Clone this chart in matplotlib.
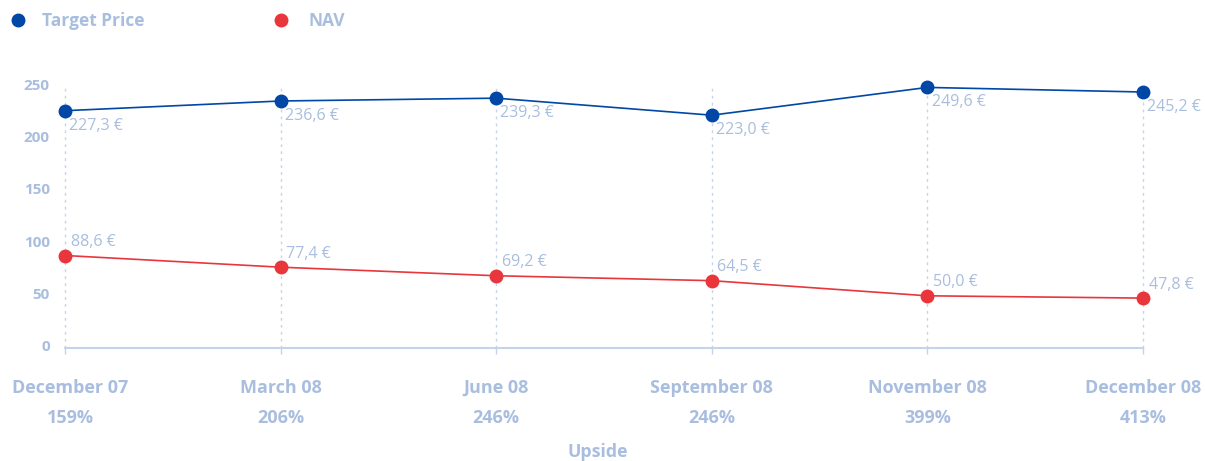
import matplotlib
matplotlib.use("Agg")
import matplotlib.pyplot as plt
import matplotlib.transforms as mtransforms

categories = ["December 07", "March 08", "June 08", "September 08", "November 08", "December 08"]
upside = ["159%", "206%", "246%", "246%", "399%", "413%"]
target_price = [227.3, 236.6, 239.3, 223.0, 249.6, 245.2]
nav = [88.6, 77.4, 69.2, 64.5, 50.0, 47.8]
yticks = [0, 50, 100, 150, 200, 250]

TXT = "#a9bedf"
BLUE = "#0047a6"
RED = "#e8363c"
AXC = "#c5d3ea"

plt.rcParams['font.family'] = ['Open Sans', 'DejaVu Sans']

fig = plt.figure(figsize=(12.05, 4.61), dpi=100)
H = 461
ax = fig.add_axes([65/1205, 1-348/H, (1143-65)/1205, (348-87)/H])
x = list(range(len(categories)))
ax.set_xlim(0, len(categories)-1)
ax.set_ylim(0, 250)

for xi in x:
    ax.plot([xi, xi], [0, 253], ls=(0, (2, 3)), color=AXC, lw=1, clip_on=False, zorder=1)

ax.plot(x, target_price, color=BLUE, lw=1.2, marker='o', ms=9, clip_on=False, zorder=3)
ax.plot(x, nav, color=RED, lw=1.2, marker='o', ms=9, clip_on=False, zorder=3)

for xi, v in zip(x, target_price):
    ax.annotate(f"{v:.1f} €".replace('.', ','), (xi, v), xytext=(3, -5), textcoords='offset points',
                ha='left', va='top', fontsize=11.5, color=TXT)
for xi, v in zip(x, nav):
    ax.annotate(f"{v:.1f} €".replace('.', ','), (xi, v), xytext=(4, 4), textcoords='offset points',
                ha='left', va='bottom', fontsize=11.5, color=TXT)

for s in ['top', 'right', 'left']:
    ax.spines[s].set_visible(False)
ax.spines['bottom'].set_color(AXC)
ax.spines['bottom'].set_linewidth(1.5)
ax.set_xticks(x)
ax.set_xticklabels([])
ax.tick_params(axis='x', length=4, color=AXC, width=1)
ax.set_yticks(yticks)
ax.set_yticklabels([str(t) for t in yticks], fontsize=11, fontweight='bold', color=TXT)
ax.tick_params(axis='y', length=0, pad=11)
off = mtransforms.ScaledTranslation(0, 2.5/100, fig.dpi_scale_trans)
for lab in ax.get_yticklabels():
    lab.set_transform(lab.get_transform() + off)

for i, (xi, c, u) in enumerate(zip(x, categories, upside)):
    dx = 5 if i == 0 else 0
    ax.annotate(c, (xi, H-388), xycoords=('data', 'figure pixels'), xytext=(dx, 0), textcoords='offset pixels',
                ha='center', va='center', fontsize=13, fontweight='bold', color=TXT, annotation_clip=False)
    ax.annotate(u, (xi, H-418), xycoords=('data', 'figure pixels'), xytext=(dx, 0), textcoords='offset pixels',
                ha='center', va='center', fontsize=13, fontweight='bold', color=TXT, annotation_clip=False)

fig.text(598/1205, 1-452/H, "Upside", ha='center', va='center', fontsize=12.8, fontweight='bold', color=TXT)

# legend
fig.lines.append(plt.Line2D([18/1205], [1-20/H], marker='o', ms=9, color=BLUE, transform=fig.transFigure))
fig.text(42/1205, 1-20.5/H, "Target Price", ha='left', va='center', fontsize=12.5, fontweight='bold', color=TXT)
fig.lines.append(plt.Line2D([281/1205], [1-20/H], marker='o', ms=9, color=RED, transform=fig.transFigure))
fig.text(308/1205, 1-20.5/H, "NAV", ha='left', va='center', fontsize=12.5, fontweight='bold', color=TXT)

fig.savefig("out.png", dpi=100)
